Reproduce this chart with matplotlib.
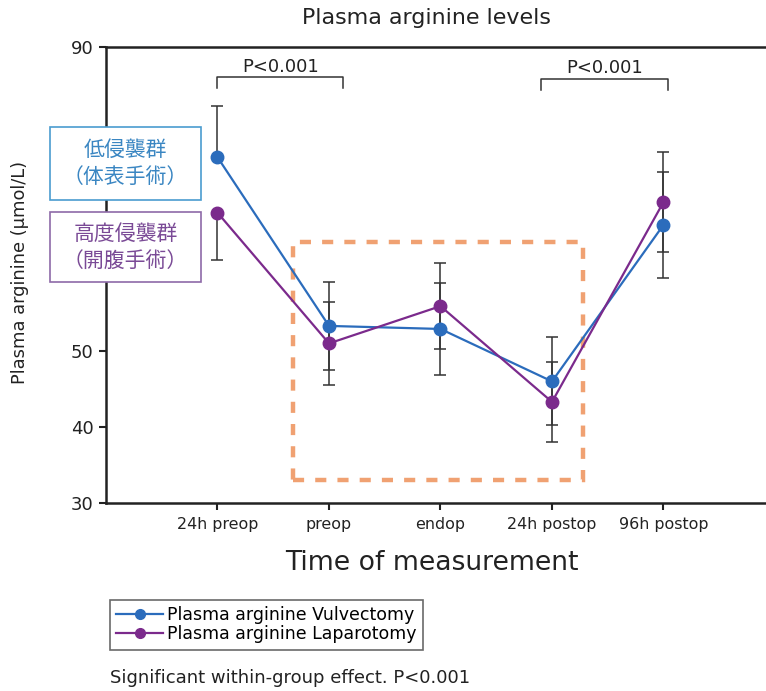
import matplotlib
matplotlib.use("Agg")
import matplotlib.pyplot as plt
import matplotlib.patches as patches

plt.rcParams['font.family'] = ['DejaVu Sans', 'Noto Sans CJK JP']

# ------------------------------------------------------------------
# datos
# ------------------------------------------------------------------
categorias = ['24h preop', 'preop', 'endop', '24h postop', '96h postop']
x_pos = [1, 2, 3, 4, 5]

vulv_media = [75.5, 53.3, 52.9, 46.0, 66.6]
vulv_err_inf = [0.0, 5.8, 6.0, 5.8, 7.0]
vulv_err_sup = [6.8, 5.8, 6.0, 5.8, 7.0]

lap_media = [68.2, 51.0, 55.9, 43.3, 69.6]
lap_err_inf = [6.2, 5.5, 5.7, 5.3, 6.6]
lap_err_sup = [0.0, 5.5, 5.7, 5.3, 6.6]

y_ticks = [30, 40, 50, 90]

AZUL = '#2b6cbc'
MORADO = '#7b2a8c'
NARANJA = '#f0a172'
TEXTO = '#222222'

W, H = 766, 691
fig = plt.figure(figsize=(W / 100, H / 100), dpi=100)

def px(x, y):
    """pixeles de la imagen -> fraccion de figura"""
    return x / W, (H - y) / H

ax = fig.add_axes([106 / W, (H - 503) / H, 669 / W, 456 / H])

ax.errorbar(x_pos, vulv_media, yerr=[vulv_err_inf, vulv_err_sup], fmt='none',
            ecolor='#333333', elinewidth=1.1, capsize=4.5, capthick=1.1, zorder=2)
ax.errorbar(x_pos, lap_media, yerr=[lap_err_inf, lap_err_sup], fmt='none',
            ecolor='#333333', elinewidth=1.1, capsize=4.5, capthick=1.1, zorder=2)
l1, = ax.plot(x_pos, vulv_media, '-o', color=AZUL, lw=1.6, ms=9,
              label='Plasma arginine Vulvectomy', zorder=3)
l2, = ax.plot(x_pos, lap_media, '-o', color=MORADO, lw=1.6, ms=9,
              label='Plasma arginine Laparotomy', zorder=3)

# recuadro naranja discontinuo
ax.add_patch(patches.Rectangle((1.68, 33.0), 2.6, 31.3, fill=False,
                               edgecolor=NARANJA, lw=3.2,
                               linestyle=(0, (2.5, 2.5)), zorder=1))

# corchetes de significancia
def corchete(x0, x1, y, dy):
    ax.plot([x0, x0, x1, x1], [y - dy, y, y, y - dy], color='#333333', lw=1.1)
    ax.text((x0 + x1) / 2, y + 0.2, 'P<0.001', ha='center', va='bottom',
            fontsize=13, color=TEXTO)

corchete(1.0, 2.13, 86.0, 1.4)
corchete(3.9, 5.04, 85.8, 1.5)

ax.set_xlim(0, 6)
ax.set_ylim(30, 90)
ax.set_xticks(x_pos)
ax.set_xticklabels(categorias, fontsize=11.4)
ax.set_yticks(y_ticks)
ax.set_yticklabels([str(v) for v in y_ticks], fontsize=13)
ax.tick_params(axis='both', direction='out', length=5, width=1.5, color=TEXTO,
               labelcolor=TEXTO)
ax.tick_params(axis='x', pad=5)
ax.tick_params(axis='y', pad=4)
for lado in ['left', 'bottom', 'top']:
    ax.spines[lado].set_linewidth(1.8)
    ax.spines[lado].set_color(TEXTO)
ax.spines['right'].set_visible(False)

# textos de la figura
fig.text(*px(426, 18), 'Plasma arginine levels', ha='center', va='center',
         fontsize=15.9, color=TEXTO)
fig.text(*px(432, 563), 'Time of measurement', ha='center', va='center',
         fontsize=19.2, color=TEXTO)
fig.text(*px(20, 272), 'Plasma arginine (μmol/L)', ha='center', va='center',
         rotation=90, fontsize=12.9, color=TEXTO)
fig.text(*px(110, 678), 'Significant within-group effect. P<0.001',
         ha='left', va='center', fontsize=13, color=TEXTO)

# cuadros con texto en japones
def cuadro(x0, y0, x1, y1, texto, borde, color_texto):
    fx, fy = px(x0, y1)
    fig.patches.append(patches.Rectangle((fx, fy), (x1 - x0) / W, (y1 - y0) / H,
                                         transform=fig.transFigure, facecolor='white',
                                         edgecolor=borde, lw=1.2, zorder=5))
    fig.text(*px((x0 + x1) / 2, (y0 + y1) / 2), texto, ha='center', va='center',
             fontsize=15, color=color_texto, linespacing=1.3, zorder=6,
             family=['Noto Sans CJK JP'])

cuadro(50, 127, 201, 200, '低侵襲群\n（体表手術）', '#4a9ccf', '#3a86c2')
cuadro(50, 212, 201, 282, '高度侵襲群\n（開腹手術）', '#8e6aa8', '#7a4a96')

leg = fig.legend(handles=[l1, l2], loc='upper left',
                 bbox_to_anchor=px(110, 600), borderaxespad=0,
                 fancybox=False, edgecolor='#444444', fontsize=12.5,
                 handlelength=2.7, handletextpad=0.25, labelspacing=0.08,
                 borderpad=0.35)
leg.get_frame().set_linewidth(1.2)
for h in leg.legend_handles:
    h.set_markersize(7)

fig.savefig('out.png', dpi=100)
